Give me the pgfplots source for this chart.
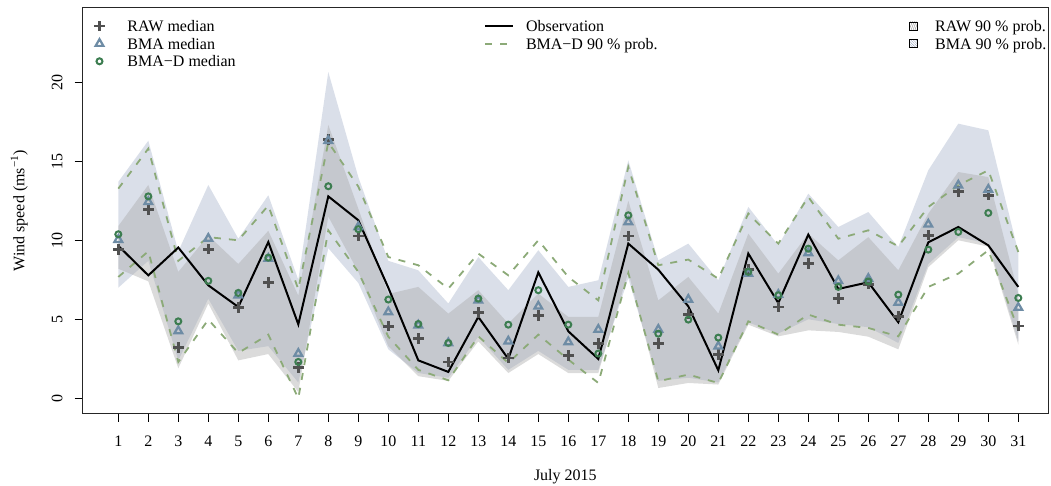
\documentclass[border=0pt]{standalone}
\usepackage{fontspec}
\setmainfont{Liberation Serif}
\usepackage{pgfplots}
\pgfplotsset{compat=1.18}
\usepackage{pgfplotstable}
\usepgfplotslibrary{fillbetween}
\usetikzlibrary{patterns.meta}

\definecolor{rawc}{RGB}{80,80,80}
\definecolor{bmac}{RGB}{110,140,165}
\definecolor{bmadc}{RGB}{60,125,80}
\definecolor{dashc}{RGB}{140,170,120}
\definecolor{bmafill}{RGB}{218,223,233}
\definecolor{rawfill}{RGB}{170,170,170}
\definecolor{bmah}{RGB}{150,162,190}
\definecolor{rawh}{RGB}{140,140,140}

\newcommand\fs{\fontsize{16bp}{19bp}\selectfont}

\pgfplotstableread{
day obs raw bma bmad dlo dhi rlo rhi blo bhi
1 9.65 9.41 10.04 10.38 7.68 13.27 8.2 10.9 7.0 13.7
2 7.78 11.96 12.43 12.78 9.3 15.8 7.4 13.5 8.7 16.3
3 9.54 3.21 4.26 4.87 2.3 8.7 1.9 8.0 2.4 9.3
4 7.15 9.43 10.11 7.43 4.98 10.2 6.0 10.3 6.3 13.5
5 5.78 5.74 6.52 6.67 2.87 10.0 2.4 8.5 3.0 10.1
6 9.89 7.32 8.84 8.9 4.03 12.2 2.8 10.6 3.3 12.85
7 4.68 1.94 2.83 2.30 0.0 6.9 0.4 6.5 1.0 7.5
8 12.78 16.39 16.3 13.42 10.63 16.2 11.5 17.3 9.5 20.65
9 11.27 10.27 10.84 10.7 8.0 13.4 8.0 12.0 7.3 14.0
10 7.0 4.56 5.46 6.25 3.9 8.94 3.3 6.6 3.1 8.7
11 2.4 3.78 4.62 4.7 1.8 8.42 1.4 7.05 1.6 8.1
12 1.67 2.30 3.50 3.5 1.14 6.94 1.1 5.36 1.3 6.0
13 5.15 5.42 6.20 6.31 3.92 9.16 3.6 6.84 3.9 8.94
14 2.49 2.55 3.61 4.66 2.24 7.78 1.6 4.73 1.8 6.84
15 7.97 5.25 5.82 6.84 4.03 10.0 2.8 6.63 3.0 9.37
16 4.24 2.72 3.56 4.66 2.45 7.68 1.6 5.15 1.8 7.05
17 2.49 3.46 4.35 2.83 0.97 6.2 1.6 5.15 1.8 7.47
18 9.79 10.27 11.16 11.58 7.93 14.64 8.0 12.5 7.6 15.06
19 8.14 3.46 4.35 4.09 1.08 8.42 0.65 6.2 1.1 8.73
20 5.82 5.32 6.25 4.98 1.5 8.78 0.97 7.68 1.3 9.79
21 1.77 2.76 3.29 3.84 0.97 7.57 0.87 5.36 1.0 7.47
22 9.16 8.14 7.89 8.0 4.87 11.69 4.66 10.42 4.8 12.11
23 6.03 5.78 6.56 6.52 4.03 9.79 3.92 7.89 4.1 9.68
24 10.36 8.52 9.2 9.47 5.3 12.74 4.3 10.42 5.0 12.95
25 6.92 6.31 7.43 7.05 4.66 10.1 4.2 8.73 4.7 10.84
26 7.34 7.22 7.57 7.4 4.45 10.63 3.9 10.2 4.5 11.79
27 4.81 5.19 6.06 6.56 3.92 9.62 3.1 8.1 3.5 9.58
28 9.87 10.32 11.01 9.41 7.05 12.11 8.3 11.69 8.5 14.43
29 10.84 13.10 13.48 10.53 7.89 13.48 10.0 14.32 10.2 17.38
30 9.68 12.85 13.21 11.73 9.37 14.43 9.6 14.0 9.8 16.96
31 7.05 4.58 5.74 6.35 4.35 9.26 3.4 6.63 3.6 9.26
}\data

\pgfplotsset{
  legaxis/.style={
    scale only axis, width=965.3bp, height=406bp,
    hide axis, xmin=0, xmax=1, ymin=0, ymax=1,
    legend cell align=left,
    legend style={draw=none, fill=none, anchor=north west,
      inner sep=0pt, outer sep=0pt, row sep=2.15bp, font=\fs,
      nodes={inner sep=0pt, text height=13.45bp, text depth=2.05bp}},
  },
}

\begin{document}
\begin{tikzpicture}
\begin{axis}[
  scale only axis, width=965.3bp, height=406bp,
  xmin=-0.187, xmax=31.99, ymin=-0.975, ymax=24.72,
  xtick={1,...,31}, ytick={0,5,10,15,20},
  tick pos=left, tick align=outside, major tick length=8bp,
  tick style={line width=1bp, black},
  axis line style={line width=1bp, black!85},
  /pgf/number format/assume math mode=true,
  tick label style={font=\fs},
  xticklabel style={anchor=base, inner sep=0pt},
  xticklabel shift=25bp,
  yticklabel style={rotate=90, anchor=south, inner sep=0pt},
  yticklabel shift=12bp,
  every axis x label/.style={at={(axis description cs:0.5,0)}, anchor=base,
    yshift=-67bp, inner sep=0pt, font=\fs},
  every axis y label/.style={at={(axis description cs:0,0.5)}, xshift=-54.7bp,
    rotate=90, anchor=south, inner sep=0pt, font=\fs},
  xlabel={July 2015},
  ylabel={Wind speed (ms\textsuperscript{−1})},
]
\addplot[draw=none, name path=rhi] table[x=day, y=rhi]{\data};
\addplot[draw=none, name path=rlo] table[x=day, y=rlo]{\data};
\addplot[draw=none, name path=bhi] table[x=day, y=bhi]{\data};
\addplot[draw=none, name path=blo] table[x=day, y=blo]{\data};
\addplot[draw=none, fill=bmafill] fill between[of=bhi and blo];
\addplot[draw=none, fill=rawfill, fill opacity=0.42] fill between[of=rhi and rlo];

\addplot[dashc, line width=1.8bp, dash pattern=on 7bp off 8bp] table[x=day, y=dhi]{\data};
\addplot[dashc, line width=1.8bp, dash pattern=on 7bp off 8bp] table[x=day, y=dlo]{\data};
\addplot[black, line width=2bp] table[x=day, y=obs]{\data};

\addplot[only marks, mark=+, mark size=5.2bp, rawc, line width=2.6bp] table[x=day, y=raw]{\data};
\addplot[only marks, mark=triangle, mark size=4.5bp, bmac, line width=2.2bp] table[x=day, y=bma]{\data};
\addplot[only marks, mark=o, mark size=3bp, bmadc, line width=2bp] table[x=day, y=bmad]{\data};
\end{axis}

\begin{axis}[legaxis, legend style={at={(0.01067,0.97401)}}]
\addplot[draw=none, forget plot] coordinates {(0,0) (1,1)};
\addlegendimage{legend image code/.code={\path[draw=none, fill=none] (-6bp,-6bp) rectangle (28bp,6bp);
  \draw[rawc, line width=2.6bp] (-5.2bp,0) -- (5.2bp,0) (0,-5.2bp) -- (0,5.2bp);}}
\addlegendentry{RAW median}
\addlegendimage{legend image code/.code={\path[draw=none, fill=none] (-6bp,-6bp) rectangle (28bp,6bp);
  \draw[bmac, line width=2.2bp, line join=miter] (90:4.5bp) -- (210:4.5bp) -- (330:4.5bp) -- cycle;}}
\addlegendentry{BMA median}
\addlegendimage{legend image code/.code={\path[draw=none, fill=none] (-6bp,-6bp) rectangle (28bp,6bp);
  \draw[bmadc, line width=2bp] (0,0) circle (3bp);}}
\addlegendentry{BMA−D median}
\end{axis}

\begin{axis}[legaxis, legend style={at={(0.41573,0.97401)}}]
\addplot[draw=none, forget plot] coordinates {(0,0) (1,1)};
\addlegendimage{legend image code/.code={\path[draw=none, fill=none] (0bp,-6bp) rectangle (41bp,6bp);
  \draw[black, line width=2bp] (0,0) -- (28bp,0);}}
\addlegendentry{Observation}
\addlegendimage{legend image code/.code={\path[draw=none, fill=none] (0bp,-6bp) rectangle (41bp,6bp);
  \draw[dashc, line width=1.8bp, dash pattern=on 7bp off 8bp] (0,0) -- (28bp,0);}}
\addlegendentry{BMA−D 90 \% prob.}
\end{axis}

\begin{axis}[legaxis, legend style={at={(0.85600,0.97401)}}]
\addplot[draw=none, forget plot] coordinates {(0,0) (1,1)};
\addlegendimage{legend image code/.code={\path[draw=none, fill=none] (0bp,-6bp) rectangle (26bp,6bp);
  \draw[black, line width=0.6bp, pattern={Lines[angle=70,distance=1.8bp,line width=0.4bp]}, pattern color=rawh] (0,-4bp) rectangle (8bp,4bp);}}
\addlegendentry{RAW 90 \% prob.}
\addlegendimage{legend image code/.code={\path[draw=none, fill=none] (0bp,-6bp) rectangle (26bp,6bp);
  \draw[black, line width=0.6bp, pattern={Lines[angle=-45,distance=1.8bp,line width=0.4bp]}, pattern color=bmah] (0,-4bp) rectangle (8bp,4bp);}}
\addlegendentry{BMA 90 \% prob.}
\end{axis}
\pgfresetboundingbox
\path[use as bounding box] (-82.7bp,-72.3bp) rectangle (968.3bp,413.7bp);
\end{tikzpicture}
\end{document}
